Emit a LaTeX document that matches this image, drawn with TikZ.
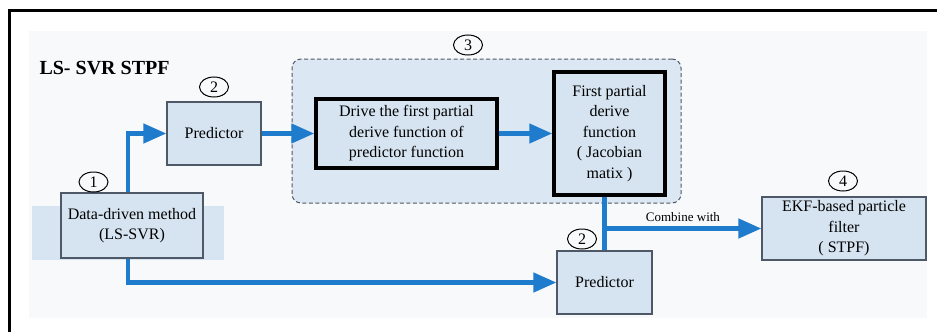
\documentclass[tikz,border=0pt]{standalone}
\usepackage{fontspec}
\setmainfont{Liberation Serif}
\usepackage{tikz}
\usetikzlibrary{positioning, arrows.meta, shapes.geometric}

\definecolor{boxfill}{HTML}{D6E4F1}
\definecolor{boxline}{HTML}{4E5866}
\definecolor{flowblue}{HTML}{1F7BCB}
\definecolor{panelfill}{HTML}{F8F9FB}
\definecolor{bandfill}{HTML}{D7E5F2}
\definecolor{groupfill}{HTML}{DBE7F3}

\begin{document}
\begin{tikzpicture}[
    x=1pt, y=-1pt,
    >={Triangle[length=23pt, width=19pt]},
    every node/.style={font=\fontsize{16}{20.5}\selectfont},
    blockbox/.style={draw=boxline, line width=1.2pt, fill=boxfill, align=center, inner sep=0pt},
    keybox/.style={draw=black, line width=3.5pt, fill=boxfill, align=center, inner sep=0pt},
    groupbox/.style={draw=boxline, line width=1pt, dash pattern=on 4pt off 2.5pt, fill=groupfill, rounded corners=9pt},
    stepnum/.style={ellipse, draw=black, line width=1pt, minimum width=29pt, minimum height=20pt, inner sep=0pt, font=\fontsize{16}{16}\selectfont},
    flow/.style={draw=flowblue, line width=4.5pt}
]
    \useasboundingbox (0,0) rectangle (937,332);

    % Frame and background
    \fill[panelfill] (29,31) rectangle (927,318);
    \draw[line width=3pt] (9,332) -- (9,10) -- (937,10);
    \fill[bandfill] (32,206) rectangle (224,260);
    \node[groupbox, minimum width=389pt, minimum height=144pt] (grp) at (486.5,131) {};

    % Define nodes
    \node[anchor=base west, font=\bfseries\fontsize{20}{20}\selectfont] (title) at (36,74) {LS- SVR STPF};
    \node[blockbox, minimum width=142pt, minimum height=65pt] (dd) at (132,225.5) {Data-driven method\\(LS-SVR)};
    \node[blockbox, minimum width=94pt, minimum height=63pt] (pred1) at (214,133.5) {Predictor};
    \node[keybox, minimum width=181pt, minimum height=69pt] (drive) at (406.5,133.5) {Drive the first partial\\derive function of\\predictor function};
    \node[keybox, minimum width=111pt, minimum height=123pt] (jac) at (609.5,133.5) {First partial\\derive\\function\\( Jacobian\\matix )};
    \node[blockbox, minimum width=95pt, minimum height=63pt] (pred2) at (604.5,282.5) {Predictor};
    \node[blockbox, minimum width=164pt, minimum height=63pt] (ekf) at (844,228.5) {EKF-based particle\\filter\\( STPF)};

    % Step numbers
    \node[stepnum] (n1) at (93.5,182) {1};
    \node[stepnum] (n2a) at (214,87) {2};
    \node[stepnum] (n3) at (468,45) {3};
    \node[stepnum] (n2b) at (582,239) {2};
    \node[stepnum] (n4) at (843,181) {4};

    % Draw arrows
    \draw[flow, ->] ([xshift=-4pt]dd.north) |- (pred1.west);
    \draw[flow, ->] (pred1.east) -- (drive.west);
    \draw[flow, ->] (drive.east) -- (jac.west);
    \draw[flow, ->] ([xshift=-4pt]dd.south) |- (pred2.west);
    \draw[flow] (jac.south -| pred2.north) -- (pred2.north);
    \coordinate (split) at (pred2.north |- ekf.west);
    \draw[flow, ->] (split) -- node[above=1pt, font=\fontsize{13}{13}\selectfont] {Combine with} (ekf.west);
\end{tikzpicture}
\end{document}
